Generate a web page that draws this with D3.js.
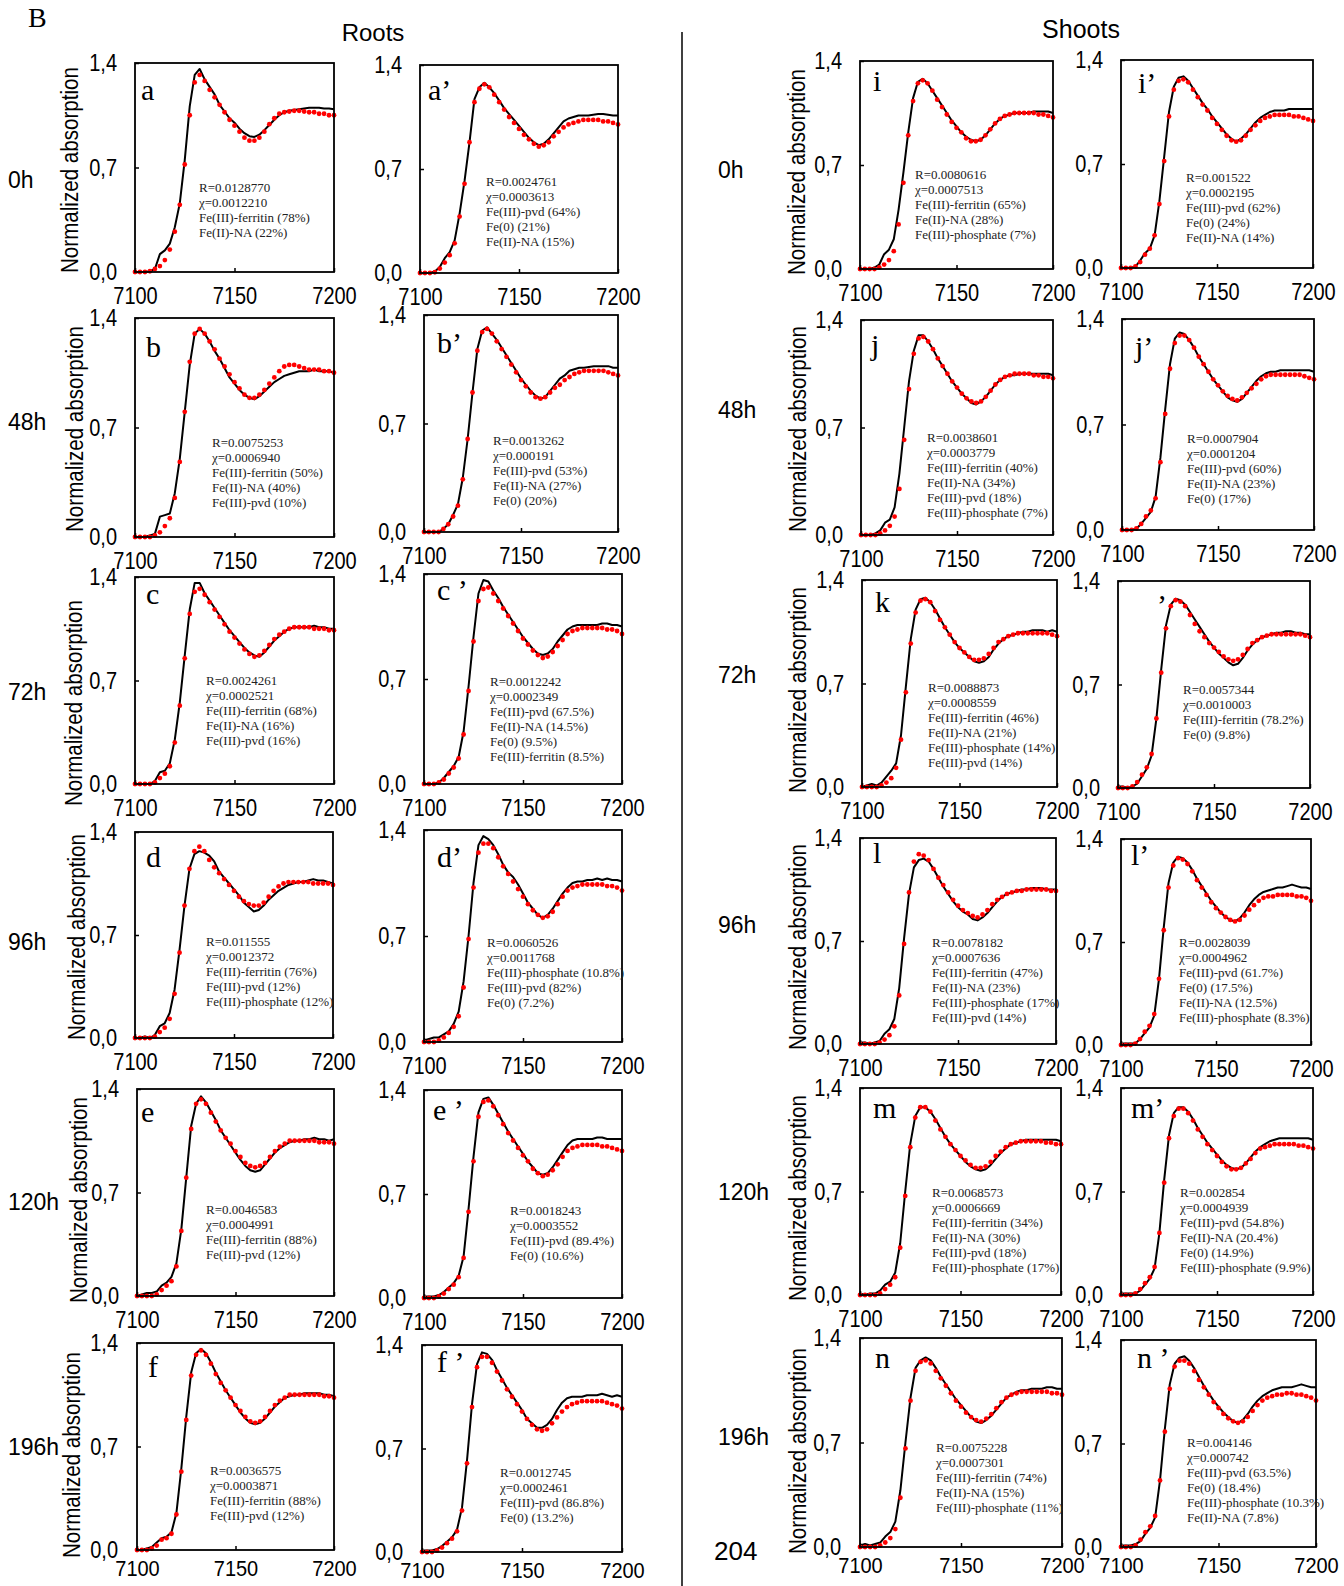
<!DOCTYPE html>
<html><head><meta charset="utf-8">
<script src="https://cdn.jsdelivr.net/npm/d3@7"></script>
<style>body{margin:0;background:#fff} svg{display:block}</style>
</head><body>
<svg id="c" width="1344" height="1586"></svg>
<script>
// ---------------- DATA ----------------
const energies = [7100,7102.5,7105,7107.5,7110,7112.5,7115,7117.5,7120,7122.5,
  7125,7127.5,7130,7132.5,7135,7137.5,7140,7142.5,7145,7147.5,
  7150,7152.5,7155,7157.5,7160,7162.5,7165,7167.5,7170,7172.5,
  7175,7177.5,7180,7182.5,7185,7187.5,7190,7192.5,7195,7197.5,7200];
const xTicks = [7100, 7150, 7200];
const yTicks = [0, 0.7, 1.4];
const rowLabelsRoots = ["0h","48h","72h","96h","120h","196h"];
const rowLabelsShoots = ["0h","48h","72h","96h","120h","196h"];
const groupTitles = ["Roots","Shoots"];

// Roots
const expA  = [0,0,0,0.005,0.02,0.12,0.145,0.19,0.30,0.46, 0.75,1.11,1.32,1.36,1.29,1.24,1.19,1.12,1.075,1.03, 1.0,0.96,0.93,0.91,0.905,0.92,0.95,0.985,1.02,1.05, 1.07,1.08,1.085,1.09,1.095,1.1,1.1,1.1,1.095,1.095, 1.09];
const fitA  = [0,0,0,0.005,0.02,0.04,0.08,0.15,0.27,0.45, 0.72,1.05,1.27,1.32,1.28,1.22,1.17,1.12,1.07,1.02, 0.98,0.94,0.9,0.88,0.88,0.9,0.94,0.99,1.03,1.06, 1.07,1.075,1.08,1.08,1.075,1.07,1.07,1.06,1.06,1.05, 1.05];
const expA2 = [0,0,0,0.01,0.04,0.1,0.14,0.22,0.4,0.62, 0.88,1.17,1.25,1.28,1.25,1.21,1.16,1.11,1.07,1.03, 0.99,0.95,0.91,0.88,0.86,0.87,0.9,0.94,0.98,1.02, 1.04,1.05,1.06,1.06,1.06,1.065,1.07,1.07,1.065,1.06, 1.06];
const fitA2 = [0,0,0,0.005,0.03,0.07,0.12,0.2,0.38,0.6, 0.88,1.15,1.24,1.27,1.25,1.2,1.15,1.1,1.05,1.01, 0.97,0.93,0.9,0.87,0.85,0.86,0.88,0.92,0.95,0.98, 1.0,1.01,1.02,1.03,1.03,1.03,1.03,1.02,1.02,1.01, 1.0];
const expB  = [0,0,0,0.01,0.02,0.13,0.14,0.15,0.28,0.5, 0.8,1.1,1.3,1.33,1.3,1.25,1.19,1.14,1.08,1.02, 0.98,0.94,0.91,0.89,0.88,0.9,0.93,0.96,0.99,1.01, 1.03,1.04,1.05,1.06,1.06,1.06,1.07,1.06,1.06,1.06, 1.05];
const fitB  = [0,0,0,0,0.01,0.03,0.07,0.12,0.25,0.48, 0.8,1.12,1.3,1.33,1.3,1.25,1.2,1.14,1.09,1.04, 0.99,0.95,0.91,0.89,0.89,0.91,0.94,0.98,1.02,1.06, 1.09,1.1,1.1,1.09,1.08,1.07,1.07,1.07,1.06,1.06, 1.05];
const expB2 = [0,0,0,0,0.02,0.05,0.11,0.18,0.35,0.6, 0.9,1.18,1.3,1.32,1.28,1.24,1.19,1.14,1.09,1.04, 0.99,0.95,0.91,0.88,0.86,0.87,0.91,0.95,0.99,1.01, 1.04,1.05,1.06,1.06,1.065,1.07,1.07,1.07,1.07,1.06, 1.06];
const fitB2 = [0,0,0,0,0.02,0.05,0.1,0.17,0.34,0.6, 0.9,1.17,1.29,1.31,1.28,1.23,1.18,1.13,1.08,1.03, 0.98,0.94,0.9,0.87,0.86,0.87,0.9,0.93,0.95,0.98, 1.0,1.02,1.03,1.04,1.04,1.04,1.04,1.04,1.03,1.02, 1.01];
const expC  = [0,0,0,0,0.02,0.08,0.09,0.14,0.3,0.55, 0.87,1.18,1.36,1.36,1.29,1.24,1.19,1.14,1.09,1.04, 1.0,0.96,0.92,0.89,0.87,0.86,0.89,0.93,0.97,1.0, 1.03,1.05,1.06,1.06,1.06,1.06,1.07,1.06,1.06,1.05, 1.05];
const fitC  = [0,0,0,0,0.01,0.04,0.07,0.12,0.28,0.53, 0.85,1.15,1.3,1.32,1.28,1.23,1.18,1.13,1.08,1.03, 0.99,0.95,0.91,0.88,0.86,0.87,0.9,0.94,0.98,1.01, 1.03,1.05,1.06,1.06,1.06,1.06,1.05,1.05,1.05,1.04, 1.04];
const expC2 = [0,0,0,0.01,0.04,0.08,0.12,0.18,0.35,0.65, 0.98,1.27,1.36,1.35,1.29,1.24,1.18,1.13,1.08,1.03, 0.98,0.94,0.9,0.87,0.86,0.87,0.9,0.95,0.99,1.03, 1.05,1.06,1.06,1.06,1.06,1.06,1.07,1.07,1.06,1.06, 1.05];
const fitC2 = [0,0,0,0.01,0.03,0.07,0.11,0.17,0.33,0.62, 0.95,1.22,1.3,1.31,1.27,1.22,1.17,1.12,1.07,1.02, 0.97,0.93,0.89,0.86,0.84,0.85,0.88,0.92,0.96,1.0, 1.02,1.03,1.04,1.04,1.04,1.04,1.04,1.03,1.03,1.02, 1.0];
const expD  = [0,0,0.01,0,0.02,0.08,0.1,0.17,0.33,0.6, 0.9,1.15,1.25,1.27,1.26,1.24,1.2,1.13,1.09,1.05, 1.01,0.97,0.92,0.89,0.86,0.87,0.9,0.94,0.97,1.0, 1.02,1.04,1.05,1.06,1.06,1.07,1.08,1.07,1.07,1.06, 1.05];
const fitD  = [0,0,0,0,0.01,0.04,0.07,0.13,0.3,0.58, 0.9,1.15,1.27,1.3,1.27,1.21,1.16,1.12,1.08,1.04, 1.0,0.96,0.93,0.91,0.9,0.9,0.92,0.96,1.0,1.03, 1.05,1.06,1.06,1.06,1.06,1.06,1.05,1.05,1.05,1.05, 1.04];
const expD2 = [0.01,0.02,0.03,0.03,0.05,0.07,0.12,0.2,0.4,0.7, 1.05,1.3,1.36,1.34,1.3,1.24,1.17,1.12,1.09,1.04, 0.98,0.92,0.88,0.84,0.82,0.84,0.88,0.93,0.98,1.02, 1.05,1.06,1.06,1.07,1.07,1.08,1.07,1.08,1.07,1.07, 1.06];
const fitD2 = [0,0,0,0.01,0.03,0.06,0.1,0.17,0.36,0.68, 1.02,1.25,1.31,1.31,1.28,1.22,1.16,1.11,1.06,1.01, 0.96,0.91,0.87,0.84,0.82,0.83,0.86,0.91,0.96,1.0, 1.02,1.03,1.04,1.04,1.04,1.04,1.04,1.03,1.03,1.02, 1.0];
const expE  = [0,0.01,0.02,0.02,0.03,0.07,0.09,0.13,0.22,0.45, 0.8,1.15,1.3,1.35,1.31,1.25,1.19,1.12,1.07,1.02, 0.97,0.92,0.88,0.85,0.84,0.85,0.89,0.93,0.97,1.0, 1.02,1.04,1.05,1.05,1.06,1.06,1.07,1.06,1.06,1.05, 1.06];
const fitE  = [0,0,0,0,0.01,0.04,0.07,0.1,0.2,0.44, 0.8,1.13,1.3,1.33,1.3,1.24,1.18,1.12,1.07,1.03, 0.98,0.94,0.9,0.88,0.87,0.88,0.9,0.94,0.98,1.01, 1.03,1.05,1.05,1.05,1.05,1.05,1.05,1.04,1.04,1.04, 1.03];
const expE2 = [0.01,0.01,0.01,0.02,0.04,0.07,0.1,0.15,0.28,0.6, 0.95,1.25,1.34,1.35,1.3,1.24,1.18,1.12,1.07,1.02, 0.97,0.92,0.88,0.84,0.83,0.84,0.88,0.93,0.98,1.03, 1.06,1.07,1.07,1.07,1.07,1.08,1.08,1.07,1.07,1.07, 1.07];
const fitE2 = [0,0,0,0.01,0.03,0.06,0.09,0.14,0.27,0.58, 0.92,1.22,1.32,1.33,1.29,1.23,1.17,1.11,1.06,1.01, 0.96,0.92,0.87,0.84,0.82,0.83,0.86,0.9,0.95,0.99, 1.01,1.02,1.03,1.03,1.03,1.03,1.02,1.02,1.01,1.0, 0.99];
const expF  = [0,0,0.01,0.02,0.05,0.08,0.09,0.12,0.25,0.55, 0.9,1.2,1.33,1.36,1.33,1.27,1.2,1.14,1.08,1.03, 0.98,0.93,0.89,0.86,0.85,0.86,0.89,0.93,0.97,1.0, 1.03,1.04,1.05,1.05,1.06,1.06,1.06,1.06,1.05,1.05, 1.04];
const fitF  = [0,0,0,0.01,0.03,0.07,0.08,0.11,0.24,0.53, 0.88,1.18,1.32,1.35,1.32,1.26,1.19,1.13,1.08,1.03, 0.98,0.94,0.9,0.87,0.86,0.87,0.9,0.94,0.98,1.01, 1.03,1.05,1.05,1.05,1.05,1.05,1.05,1.05,1.04,1.04, 1.03];
const expF2 = [0.01,0.01,0.01,0.02,0.04,0.07,0.1,0.15,0.3,0.62, 1.0,1.27,1.35,1.34,1.3,1.23,1.17,1.11,1.06,1.01, 0.96,0.9,0.87,0.84,0.84,0.86,0.9,0.96,1.01,1.04, 1.05,1.05,1.05,1.06,1.06,1.06,1.07,1.06,1.05,1.06, 1.05];
const fitF2 = [0,0,0,0.01,0.03,0.06,0.09,0.14,0.28,0.6, 0.98,1.25,1.32,1.32,1.28,1.22,1.16,1.1,1.05,1.0, 0.95,0.9,0.86,0.83,0.82,0.83,0.87,0.91,0.95,0.98, 1.0,1.01,1.02,1.02,1.02,1.02,1.02,1.01,1.0,0.99, 0.97];
// Shoots
const expI  = [0,0,0,0.01,0.03,0.1,0.13,0.2,0.4,0.65, 0.92,1.15,1.26,1.28,1.25,1.2,1.15,1.1,1.05,1.0, 0.96,0.92,0.89,0.87,0.86,0.87,0.9,0.94,0.98,1.01, 1.03,1.04,1.05,1.05,1.05,1.05,1.06,1.06,1.06,1.06, 1.05];
const fitI  = [0,0,0,0,0.01,0.03,0.06,0.12,0.3,0.58, 0.9,1.13,1.25,1.27,1.25,1.2,1.14,1.09,1.04,0.99, 0.95,0.92,0.88,0.86,0.86,0.87,0.9,0.94,0.98,1.01, 1.03,1.04,1.05,1.05,1.05,1.05,1.05,1.04,1.04,1.03, 1.02];
const expI2 = [0,0,0,0.01,0.05,0.1,0.13,0.22,0.45,0.75, 1.05,1.22,1.28,1.29,1.26,1.21,1.16,1.11,1.07,1.02, 0.98,0.94,0.9,0.87,0.85,0.87,0.9,0.94,0.98,1.01, 1.03,1.05,1.06,1.06,1.06,1.07,1.07,1.07,1.07,1.07, 1.07];
const fitI2 = [0,0,0,0.01,0.04,0.09,0.13,0.22,0.43,0.72, 1.02,1.2,1.26,1.27,1.25,1.2,1.15,1.1,1.06,1.01, 0.97,0.93,0.89,0.86,0.85,0.86,0.89,0.93,0.96,0.99, 1.01,1.02,1.03,1.03,1.03,1.03,1.02,1.02,1.01,1.0, 0.99];
const expJ  = [0,0,0,0.01,0.03,0.08,0.1,0.18,0.4,0.7, 1.0,1.2,1.3,1.3,1.26,1.21,1.15,1.1,1.05,1.0, 0.96,0.92,0.89,0.86,0.85,0.87,0.9,0.94,0.98,1.01, 1.03,1.04,1.04,1.05,1.05,1.05,1.05,1.05,1.05,1.05, 1.04];
const fitJ  = [0,0,0,0,0.01,0.03,0.06,0.12,0.3,0.62, 0.95,1.18,1.28,1.29,1.26,1.21,1.15,1.1,1.05,1.0, 0.96,0.92,0.89,0.87,0.86,0.87,0.9,0.94,0.98,1.01, 1.03,1.04,1.05,1.05,1.05,1.05,1.04,1.04,1.03,1.03, 1.02];
const expJ2 = [0,0,0,0.01,0.04,0.08,0.12,0.22,0.48,0.8, 1.1,1.27,1.31,1.3,1.26,1.21,1.15,1.1,1.05,1.0, 0.96,0.92,0.88,0.86,0.85,0.87,0.91,0.95,0.99,1.02, 1.04,1.05,1.05,1.06,1.06,1.06,1.06,1.06,1.06,1.06, 1.05];
const fitJ2 = [0,0,0,0.01,0.04,0.09,0.13,0.21,0.45,0.77, 1.07,1.24,1.29,1.29,1.26,1.21,1.15,1.1,1.05,1.0, 0.96,0.92,0.89,0.87,0.86,0.88,0.91,0.94,0.97,1.0, 1.02,1.03,1.03,1.03,1.03,1.03,1.03,1.03,1.02,1.01, 1.0];
const expK  = [0,0.01,0.02,0.01,0.03,0.07,0.11,0.16,0.35,0.68, 1.0,1.2,1.27,1.28,1.25,1.2,1.14,1.08,1.03,0.98, 0.94,0.91,0.88,0.85,0.84,0.85,0.88,0.93,0.97,1.0, 1.02,1.03,1.04,1.05,1.05,1.06,1.06,1.06,1.05,1.06, 1.05];
const fitK  = [0,0,0,0,0.01,0.03,0.06,0.13,0.32,0.64, 0.97,1.18,1.26,1.27,1.25,1.19,1.13,1.08,1.03,0.98, 0.94,0.91,0.88,0.86,0.86,0.87,0.9,0.94,0.98,1.0, 1.02,1.03,1.04,1.04,1.04,1.04,1.04,1.04,1.04,1.03, 1.02];
const expK2 = [0.01,0.01,0,0.01,0.03,0.08,0.13,0.22,0.47,0.8, 1.1,1.24,1.28,1.27,1.24,1.19,1.14,1.09,1.04,0.99, 0.95,0.91,0.88,0.85,0.83,0.84,0.88,0.93,0.97,1.0, 1.02,1.03,1.04,1.05,1.05,1.06,1.06,1.05,1.05,1.04, 1.04];
const fitK2 = [0,0,0,0.01,0.04,0.09,0.14,0.23,0.47,0.78, 1.08,1.23,1.27,1.26,1.23,1.17,1.11,1.06,1.02,0.98, 0.95,0.92,0.89,0.87,0.86,0.87,0.9,0.94,0.98,1.0, 1.02,1.03,1.04,1.04,1.04,1.04,1.04,1.04,1.04,1.03, 1.02];
const expL  = [0.01,0.01,0,0.01,0.02,0.07,0.1,0.17,0.38,0.72, 1.02,1.2,1.25,1.26,1.24,1.19,1.13,1.07,1.02,0.97, 0.93,0.9,0.88,0.85,0.84,0.86,0.89,0.93,0.97,1.0, 1.02,1.03,1.04,1.05,1.05,1.06,1.06,1.06,1.05,1.05, 1.05];
const fitL  = [0,0,0,0,0.01,0.03,0.06,0.12,0.33,0.68, 1.03,1.24,1.29,1.28,1.25,1.19,1.13,1.08,1.03,0.98, 0.94,0.91,0.89,0.87,0.86,0.88,0.91,0.95,0.98,1.0, 1.02,1.03,1.04,1.04,1.05,1.05,1.05,1.05,1.05,1.04, 1.04];
const expL2 = [0.01,0.01,0.01,0.01,0.04,0.08,0.12,0.2,0.45,0.8, 1.1,1.24,1.28,1.27,1.24,1.19,1.13,1.08,1.03,0.98, 0.94,0.9,0.87,0.85,0.84,0.86,0.9,0.95,0.99,1.02, 1.04,1.05,1.06,1.07,1.07,1.08,1.09,1.08,1.07,1.07, 1.06];
const fitL2 = [0,0,0,0.01,0.04,0.09,0.13,0.21,0.45,0.78, 1.07,1.22,1.27,1.26,1.23,1.18,1.12,1.07,1.02,0.97, 0.93,0.9,0.87,0.85,0.84,0.85,0.88,0.92,0.95,0.98, 1.0,1.01,1.01,1.02,1.02,1.02,1.02,1.01,1.01,1.0, 0.98];
const expM  = [0.01,0,0.01,0.01,0.03,0.07,0.09,0.15,0.35,0.7, 1.02,1.21,1.27,1.27,1.24,1.19,1.13,1.07,1.02,0.98, 0.94,0.9,0.87,0.85,0.84,0.85,0.88,0.92,0.96,0.99, 1.02,1.03,1.04,1.05,1.05,1.05,1.05,1.05,1.05,1.05, 1.04];
const fitM  = [0,0,0,0,0.01,0.04,0.07,0.12,0.32,0.67, 1.0,1.2,1.27,1.27,1.24,1.18,1.12,1.07,1.02,0.98, 0.94,0.91,0.88,0.86,0.86,0.87,0.9,0.94,0.97,1.0, 1.02,1.03,1.04,1.04,1.04,1.04,1.04,1.03,1.03,1.02, 1.02];
const expM2 = [0.01,0.01,0.01,0.01,0.03,0.07,0.11,0.18,0.42,0.78, 1.08,1.23,1.27,1.27,1.24,1.19,1.13,1.08,1.03,0.99, 0.95,0.91,0.88,0.86,0.85,0.86,0.89,0.93,0.97,1.0, 1.02,1.04,1.05,1.06,1.06,1.06,1.06,1.06,1.06,1.06, 1.05];
const fitM2 = [0,0,0,0.01,0.04,0.08,0.12,0.19,0.42,0.76, 1.06,1.21,1.26,1.26,1.23,1.18,1.12,1.07,1.02,0.98, 0.94,0.9,0.87,0.85,0.85,0.86,0.89,0.92,0.96,0.99, 1.0,1.01,1.02,1.02,1.02,1.02,1.02,1.01,1.01,1.0, 0.99];
const expN  = [0.01,0.02,0.01,0.02,0.03,0.07,0.1,0.17,0.38,0.7, 1.0,1.2,1.25,1.27,1.25,1.2,1.14,1.09,1.04,0.99, 0.95,0.91,0.87,0.84,0.83,0.85,0.88,0.92,0.96,1.0, 1.02,1.04,1.05,1.05,1.06,1.06,1.06,1.07,1.07,1.06, 1.06];
const fitN  = [0,0,0,0,0.01,0.03,0.06,0.12,0.33,0.66, 0.98,1.18,1.24,1.25,1.23,1.18,1.13,1.08,1.03,0.98, 0.94,0.9,0.87,0.85,0.84,0.86,0.89,0.93,0.97,1.0, 1.02,1.03,1.04,1.04,1.04,1.04,1.04,1.04,1.03,1.03, 1.02];
const expN2 = [0.01,0.01,0.01,0.02,0.04,0.09,0.13,0.2,0.45,0.8, 1.1,1.24,1.28,1.29,1.26,1.21,1.15,1.09,1.04,0.99, 0.95,0.91,0.88,0.85,0.84,0.86,0.9,0.95,0.99,1.02, 1.04,1.06,1.07,1.08,1.08,1.08,1.09,1.1,1.09,1.08, 1.08];
const fitN2 = [0,0,0,0.01,0.05,0.1,0.14,0.21,0.45,0.78, 1.07,1.22,1.26,1.26,1.24,1.19,1.13,1.08,1.03,0.98, 0.94,0.9,0.87,0.85,0.84,0.85,0.88,0.92,0.96,0.99, 1.01,1.02,1.03,1.03,1.04,1.04,1.03,1.03,1.02,1.01, 0.99];

// fit annotations
const notesA  = ["R=0.0128770","χ=0.0012210","Fe(III)-ferritin (78%)","Fe(II)-NA (22%)"];
const notesA2 = ["R=0.0024761","χ=0.0003613","Fe(III)-pvd (64%)","Fe(0) (21%)","Fe(II)-NA (15%)"];
const notesB  = ["R=0.0075253","χ=0.0006940","Fe(III)-ferritin (50%)","Fe(II)-NA (40%)","Fe(III)-pvd (10%)"];
const notesB2 = ["R=0.0013262","χ=0.000191","Fe(III)-pvd (53%)","Fe(II)-NA (27%)","Fe(0) (20%)"];
const notesC  = ["R=0.0024261","χ=0.0002521","Fe(III)-ferritin (68%)","Fe(II)-NA (16%)","Fe(III)-pvd (16%)"];
const notesC2 = ["R=0.0012242","χ=0.0002349","Fe(III)-pvd (67.5%)","Fe(II)-NA (14.5%)","Fe(0) (9.5%)","Fe(III)-ferritin (8.5%)"];
const notesD  = ["R=0.011555","χ=0.0012372","Fe(III)-ferritin (76%)","Fe(III)-pvd (12%)","Fe(III)-phosphate (12%)"];
const notesD2 = ["R=0.0060526","χ=0.0011768","Fe(III)-phosphate (10.8%)","Fe(III)-pvd (82%)","Fe(0) (7.2%)"];
const notesE  = ["R=0.0046583","χ=0.0004991","Fe(III)-ferritin (88%)","Fe(III)-pvd (12%)"];
const notesE2 = ["R=0.0018243","χ=0.0003552","Fe(III)-pvd (89.4%)","Fe(0) (10.6%)"];
const notesF  = ["R=0.0036575","χ=0.0003871","Fe(III)-ferritin (88%)","Fe(III)-pvd (12%)"];
const notesF2 = ["R=0.0012745","χ=0.0002461","Fe(III)-pvd (86.8%)","Fe(0) (13.2%)"];
const notesI  = ["R=0.0080616","χ=0.0007513","Fe(III)-ferritin (65%)","Fe(II)-NA (28%)","Fe(III)-phosphate (7%)"];
const notesI2 = ["R=0.001522","χ=0.0002195","Fe(III)-pvd (62%)","Fe(0) (24%)","Fe(II)-NA (14%)"];
const notesJ  = ["R=0.0038601","χ=0.0003779","Fe(III)-ferritin (40%)","Fe(II)-NA (34%)","Fe(III)-pvd (18%)","Fe(III)-phosphate (7%)"];
const notesJ2 = ["R=0.0007904","χ=0.0001204","Fe(III)-pvd (60%)","Fe(II)-NA (23%)","Fe(0) (17%)"];
const notesK  = ["R=0.0088873","χ=0.0008559","Fe(III)-ferritin (46%)","Fe(II)-NA (21%)","Fe(III)-phosphate (14%)","Fe(III)-pvd (14%)"];
const notesK2 = ["R=0.0057344","χ=0.0010003","Fe(III)-ferritin (78.2%)","Fe(0) (9.8%)"];
const notesL  = ["R=0.0078182","χ=0.0007636","Fe(III)-ferritin (47%)","Fe(II)-NA (23%)","Fe(III)-phosphate (17%)","Fe(III)-pvd (14%)"];
const notesL2 = ["R=0.0028039","χ=0.0004962","Fe(III)-pvd (61.7%)","Fe(0) (17.5%)","Fe(II)-NA (12.5%)","Fe(III)-phosphate (8.3%)"];
const notesM  = ["R=0.0068573","χ=0.0006669","Fe(III)-ferritin (34%)","Fe(II)-NA (30%)","Fe(III)-pvd (18%)","Fe(III)-phosphate (17%)"];
const notesM2 = ["R=0.002854","χ=0.0004939","Fe(III)-pvd (54.8%)","Fe(II)-NA (20.4%)","Fe(0) (14.9%)","Fe(III)-phosphate (9.9%)"];
const notesN  = ["R=0.0075228","χ=0.0007301","Fe(III)-ferritin (74%)","Fe(II)-NA (15%)","Fe(III)-phosphate (11%)"];
const notesN2 = ["R=0.004146","χ=0.000742","Fe(III)-pvd (63.5%)","Fe(0) (18.4%)","Fe(III)-phosphate (10.3%)","Fe(II)-NA (7.8%)"];

const panels = [
  {label:"a",   exp:expA,  fit:fitA,  notes:notesA},
  {label:"a’",  exp:expA2, fit:fitA2, notes:notesA2},
  {label:"b",   exp:expB,  fit:fitB,  notes:notesB},
  {label:"b’",  exp:expB2, fit:fitB2, notes:notesB2},
  {label:"c",   exp:expC,  fit:fitC,  notes:notesC},
  {label:"c ’", exp:expC2, fit:fitC2, notes:notesC2},
  {label:"d",   exp:expD,  fit:fitD,  notes:notesD},
  {label:"d’",  exp:expD2, fit:fitD2, notes:notesD2},
  {label:"e",   exp:expE,  fit:fitE,  notes:notesE},
  {label:"e ’", exp:expE2, fit:fitE2, notes:notesE2},
  {label:"f",   exp:expF,  fit:fitF,  notes:notesF},
  {label:"f ’", exp:expF2, fit:fitF2, notes:notesF2},
  {label:"i",   exp:expI,  fit:fitI,  notes:notesI},
  {label:"i’",  exp:expI2, fit:fitI2, notes:notesI2},
  {label:"j",   exp:expJ,  fit:fitJ,  notes:notesJ},
  {label:"j’",  exp:expJ2, fit:fitJ2, notes:notesJ2},
  {label:"k",   exp:expK,  fit:fitK,  notes:notesK},
  {label:"’",   exp:expK2, fit:fitK2, notes:notesK2},
  {label:"l",   exp:expL,  fit:fitL,  notes:notesL},
  {label:"l’",  exp:expL2, fit:fitL2, notes:notesL2},
  {label:"m",   exp:expM,  fit:fitM,  notes:notesM},
  {label:"m’",  exp:expM2, fit:fitM2, notes:notesM2},
  {label:"n",   exp:expN,  fit:fitN,  notes:notesN},
  {label:"n ’", exp:expN2, fit:fitN2, notes:notesN2}
];

// ---------------- LAYOUT (pixel boxes, label spots) ----------------
// [x0, x1, y0(top), y1(bottom), letterX, letterY, noteX, noteY, ylabX, ylabY]
const layout = [
  [135,334,63,272,   141,100, 199,192, 70,170],
  [420,618,65,273,   428,100, 486,186, null,null],
  [135,334,318,537,  146,357, 212,447, 75,429],
  [424,618,315,532,  437,353, 493,445, null,null],
  [135,334,577,784,  146,604, 206,685, 74,703],
  [424,622,574,784,  437,600, 490,686, null,null],
  [135,333,832,1038, 146,867, 206,946, 77,937],
  [424,622,830,1042, 437,867, 487,947, null,null],
  [137,334,1089,1296,141,1122,206,1214,79,1200],
  [424,622,1090,1298,433,1120,510,1215,null,null],
  [137,334,1343,1550,148,1377,210,1475,72,1455],
  [422,622,1345,1552,437,1372,500,1477,null,null],
  [860,1053,61,269,  873,91,  915,179, 797,172],
  [1121,1313,60,268, 1138,93, 1186,182,null,null],
  [861,1053,320,535, 871,355, 927,442, 798,429],
  [1122,1314,319,530,1135,357,1187,443,null,null],
  [862,1057,580,787, 875,612, 928,692, 798,690],
  [1118,1310,581,788,1157,615,1183,694,null,null],
  [860,1056,838,1044,873,863, 932,947, 798,947],
  [1121,1311,839,1045,1131,865,1179,947,null,null],
  [860,1061,1088,1295,873,1118,932,1197,798,1198],
  [1121,1313,1088,1295,1131,1118,1180,1197,null,null],
  [860,1062,1338,1547,875,1368,936,1452,798,1451],
  [1121,1316,1340,1547,1137,1368,1187,1447,null,null]
];
const rowYRoots  = [180,422,692,942,1202,1447];
const rowYShoots = [170,410,675,925,1192,1437];

const SANS = "'Liberation Sans', Arial, Helvetica, sans-serif";
const SERIF = "'Liberation Serif', 'Times New Roman', Times, serif";

const svg = d3.select("#c");
svg.append("rect").attr("width",1344).attr("height",1586).attr("fill","#fff");

// headers
svg.append("text").attr("x",28).attr("y",27).attr("font-family",SERIF).attr("font-size",28).text("B");
svg.append("text").attr("x",373).attr("y",41).attr("text-anchor","middle").attr("font-family",SANS).attr("font-size",24).text(groupTitles[0]);
svg.append("text").attr("x",1081).attr("y",38).attr("text-anchor","middle").attr("font-family",SANS).attr("font-size",25).text(groupTitles[1]);
svg.append("line").attr("x1",682).attr("x2",682).attr("y1",32).attr("y2",1586).attr("stroke","#000").attr("stroke-width",1.5);

rowLabelsRoots.forEach((t,i)=>{
  svg.append("text").attr("x",8).attr("y",rowYRoots[i]).attr("dy","0.35em").attr("font-family",SANS).attr("font-size",23).text(t);
});
rowLabelsShoots.forEach((t,i)=>{
  svg.append("text").attr("x",718).attr("y",rowYShoots[i]).attr("dy","0.35em").attr("font-family",SANS).attr("font-size",23).text(t);
});
svg.append("text").attr("x",714).attr("y",1560).attr("font-family",SANS).attr("font-size",26).text("204");

const fmtY = d => d3.format(".1f")(d).replace(".", ",");

panels.forEach((p, k) => {
  const L = layout[k];
  const [x0,x1,y0,y1,lx,ly,nx,ny,yx,yy] = L;
  const x = d3.scaleLinear().domain([7100,7200]).range([x0,x1]);
  const y = d3.scaleLinear().domain([0,1.4]).range([y1,y0]);
  const g = svg.append("g");
  const bottomRow = y1 > 1540;

  const ya = g.append("g").attr("transform",`translate(${x0},0)`)
    .call(d3.axisLeft(y).tickValues(yTicks).tickSize(-4).tickPadding(bottomRow ? 19 : 18).tickFormat(fmtY));
  const xa = g.append("g").attr("transform",`translate(0,${y1})`)
    .call(d3.axisBottom(x).tickValues(xTicks).tickSize(-4).tickPadding(bottomRow ? 10 : 13).tickFormat(d3.format("d")));
  ya.selectAll(".tick text").attr("transform","scale(1,1.18)");
  xa.selectAll(".tick text").attr("transform", bottomRow ? "scale(1,1.08)" : "scale(1,1.18)");
  [ya, xa].forEach(a => {
    a.select(".domain").remove();
    a.selectAll(".tick line").attr("stroke","#000").attr("stroke-width",1.5);
    a.selectAll(".tick text").attr("font-size",20).attr("font-family",SANS).attr("fill","#000");
  });

  const pts = energies.map((e,i)=>({e, v:p.exp[i]}));
  g.append("path").datum(pts)
    .attr("d", d3.line().x(d=>x(d.e)).y(d=>y(d.v)))
    .attr("fill","none").attr("stroke","#000").attr("stroke-width",2).attr("stroke-linejoin","round");

  g.selectAll("circle.fit").data(energies.map((e,i)=>({e, v:p.fit[i]})))
    .join("circle").attr("class","fit")
    .attr("cx", d=>x(d.e)).attr("cy", d=>y(d.v)).attr("r",2.4).attr("fill","#f00");

  g.append("rect").attr("x",x0).attr("y",y0).attr("width",x1-x0).attr("height",y1-y0)
    .attr("fill","none").attr("stroke","#000").attr("stroke-width",1.8);

  g.append("text").attr("x",lx).attr("y",ly).attr("font-family",SERIF).attr("font-size",30).text(p.label);

  const nt = g.append("text").attr("font-family",SERIF).attr("font-size",13).attr("fill","#222");
  p.notes.forEach((s,i)=>{
    nt.append("tspan").attr("x",nx).attr("y",ny + i*15).text(s);
  });

  if (yx !== null) {
    g.append("text").attr("transform",`translate(${yx},${yy}) rotate(-90)`)
      .attr("text-anchor","middle").attr("dy","0.35em")
      .attr("font-family",SANS).attr("font-size",23)
      .attr("textLength",206).attr("lengthAdjust","spacingAndGlyphs")
      .text("Normalized absorption");
  }
});
</script>
</body></html>
